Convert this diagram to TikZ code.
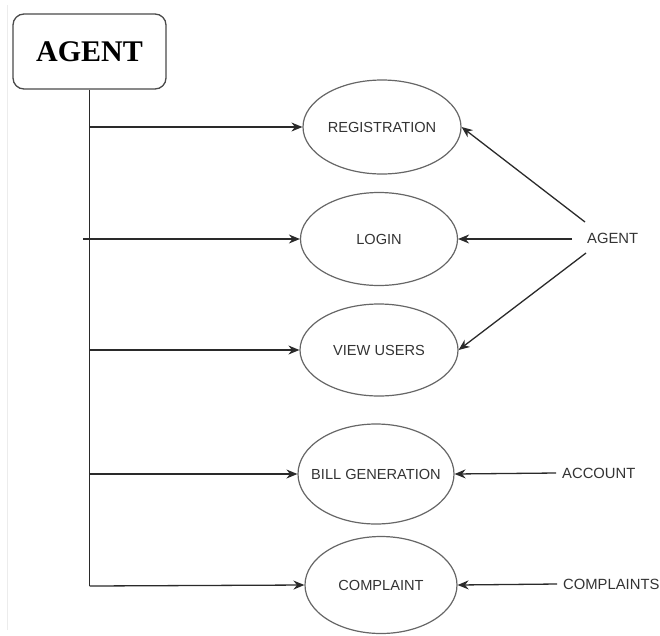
\documentclass[tikz,border=0pt]{standalone}
\usepackage{fontspec}
\setmainfont{Liberation Sans}
\newfontfamily\titlefont{Liberation Serif}
\usetikzlibrary{shapes.geometric,arrows.meta}
\definecolor{linec}{HTML}{2A2A2A}
\definecolor{ellc}{HTML}{666666}
\definecolor{txtc}{HTML}{333333}
\tikzset{
  usecase/.style={ellipse, draw=ellc, line width=1.2pt, inner ysep=0pt, inner xsep=-25pt, font=\fontsize{14.6}{16}\selectfont, text=txtc},
  arr/.style={draw=linec, line width=1.3pt, -{Stealth[length=11pt,width=9pt]}},
  plain/.style={draw=linec, line width=1.3pt},
  lbl/.style={font=\fontsize{14.8}{16}\selectfont, text=txtc, inner sep=0pt},
  titlebox/.style={draw=linec!85, line width=1.3pt, rounded corners=11pt, minimum width=153pt, minimum height=75pt, font=\titlefont\bfseries\fontsize{30}{32}\selectfont}
}
\begin{document}
\begin{tikzpicture}[x=1pt,y=-1pt]
\useasboundingbox (0,0) rectangle (660,635);
\draw[gray!15, line width=0.8pt] (7,5) -- (7,630);
\node[titlebox] (agent) at (89.5,51.5) {AGENT};
\node[usecase, minimum width=158pt, minimum height=94pt] (reg) at (382,127) {REGISTRATION};
\node[usecase, minimum width=157pt, minimum height=93pt] (login) at (379,239) {LOGIN};
\node[usecase, minimum width=158pt, minimum height=92pt] (vu) at (379,350) {VIEW USERS};
\node[usecase, minimum width=156pt, minimum height=100pt] (bill) at (376,474) {BILL GENERATION};
\node[usecase, minimum width=152pt, minimum height=97pt] (comp) at (381,585) {COMPLAINT};
\node[lbl, anchor=west] (agl) at (587,238) {AGENT};
\node[lbl, anchor=west] (acc) at (562,473) {ACCOUNT};
\node[lbl, anchor=west] (cps) at (563,584) {COMPLAINTS};
\coordinate (t1) at (89.5,127);
\coordinate (t2) at (83,239);
\coordinate (t3) at (89.5,350);
\coordinate (t4) at (89.5,474);
\coordinate (t5) at (89.5,586);
\draw[plain] (agent.south) -- (t5);
\draw[arr] (t1) -- (reg.west);
\draw[arr] (t2) -- (login.west);
\draw[arr] (t3) -- (vu.west);
\draw[arr] (t4) -- (bill.west);
\draw[arr] (t5) -- (comp.west);
\coordinate (a1) at (585,222);
\coordinate (a2) at (572,239);
\coordinate (a3) at (586,253);
\draw[arr] (a1) -- (reg.east);
\draw[arr] (a2) -- (login.east);
\draw[arr] (a3) -- (vu.east);
\draw[arr] ([xshift=-6pt]acc.west) -- (bill.east);
\draw[arr] ([xshift=-6pt]cps.west) -- (comp.east);
\end{tikzpicture}
\end{document}
